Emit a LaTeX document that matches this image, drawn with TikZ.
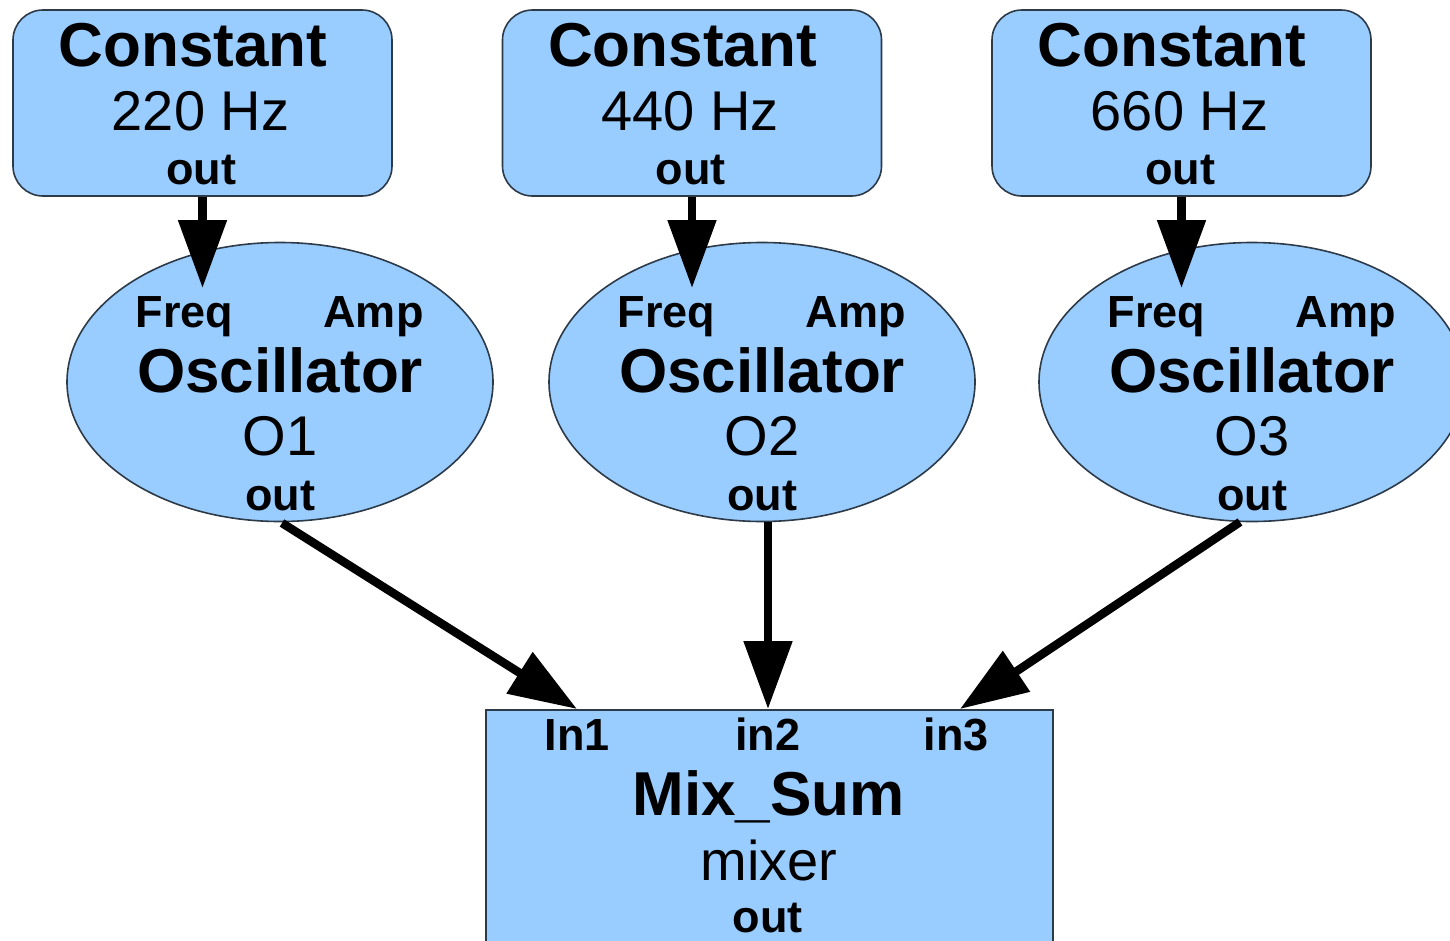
\documentclass[tikz,border=0pt]{standalone}
\usepackage{fontspec}
\setmainfont{Liberation Sans}
\usetikzlibrary{shapes.geometric,arrows.meta,calc}
\definecolor{blockfill}{RGB}{153,204,255}
\definecolor{blockline}{RGB}{45,58,72}
\newcommand{\fsz}[1]{\fontsize{#1}{#1}\selectfont}
\begin{document}
\begin{tikzpicture}[x=1pt,y=-1pt,
  constbox/.style={draw=blockline,fill=blockfill,line width=1.6pt,rectangle,rounded corners=30pt,
    minimum width=379pt,minimum height=186pt,inner sep=0pt},
  oscshape/.style={draw=blockline,fill=blockfill,line width=1.6pt,ellipse,
    minimum width=426pt,minimum height=279pt,inner sep=0pt},
  mixbox/.style={draw=blockline,fill=blockfill,line width=1.6pt,rectangle,
    minimum width=567pt,minimum height=260pt,inner sep=0pt},
  title/.style={anchor=base,inner sep=0pt,font=\fsz{62}\bfseries},
  sub/.style={anchor=base,inner sep=0pt,font=\fsz{56}},
  port/.style={anchor=base,inner sep=0pt,font=\fsz{45}\bfseries},
  wire/.style={line width=8.5pt,-{Triangle[length=68pt,width=47pt]}}
]
\useasboundingbox (0,0) rectangle (1450,940);

% constant sources
\foreach \i/\cx/\hz in {1/202.5/220,2/692/440,3/1181.5/660}{
  \node[constbox] (c\i) at (\cx,103) {};
  \node[title] (c\i t) at ($(c\i)+(-9.5,-37)$) {Constant};
  \node[sub]   (c\i f) at ($(c\i)+(-2,27)$) {\hz\ Hz};
  \node[port]  (c\i o) at ($(c\i)+(-1.5,81)$) {out};
}

% oscillators
\foreach \i/\cx in {1/280,2/762,3/1252}{
  \node[oscshape] (o\i) at (\cx,382) {};
  \node[port]  (o\i fq) at ($(o\i)+(-95.5,-55)$) {Freq};
  \node[port]  (o\i am) at ($(o\i)+(93.5,-55)$) {Amp};
  \node[title] (o\i t)  at ($(o\i)+(0,10)$) {Oscillator};
  \node[sub]   (o\i n)  at ($(o\i)+(0,73)$) {O\i};
  \node[port]  (o\i o)  at ($(o\i)+(0,128)$) {out};
}

% mixer
\node[mixbox] (mix) at (769.5,840) {};
\node[port]  (in1) at (577,750) {In1};
\node[port]  (in2) at (767.5,750) {in2};
\node[port]  (in3) at (956,750) {in3};
\node[title] (mixt) at (768.5,815) {Mix\_Sum};
\node[sub]   (mixn) at (769,880) {mixer};
\node[port]  (mixo) at (767.5,932) {out};

% port end points
\coordinate (f1) at (202.5,288);
\coordinate (f2) at (692,288);
\coordinate (f3) at (1181.5,288);
\coordinate (m1) at (577,709);
\coordinate (m2) at (768,709);
\coordinate (m3) at (960,709);
\coordinate (s1) at (282,523);
\coordinate (s3) at (1240,522);

% connections
\draw[wire] (c1.south) -- (f1);
\draw[wire] (c2.south) -- (f2);
\draw[wire] (c3.south) -- (f3);
\draw[wire] (s1) -- (m1);
\draw[wire] (o2.south -| m2) -- (m2);
\draw[wire] (s3) -- (m3);
\end{tikzpicture}
\end{document}
